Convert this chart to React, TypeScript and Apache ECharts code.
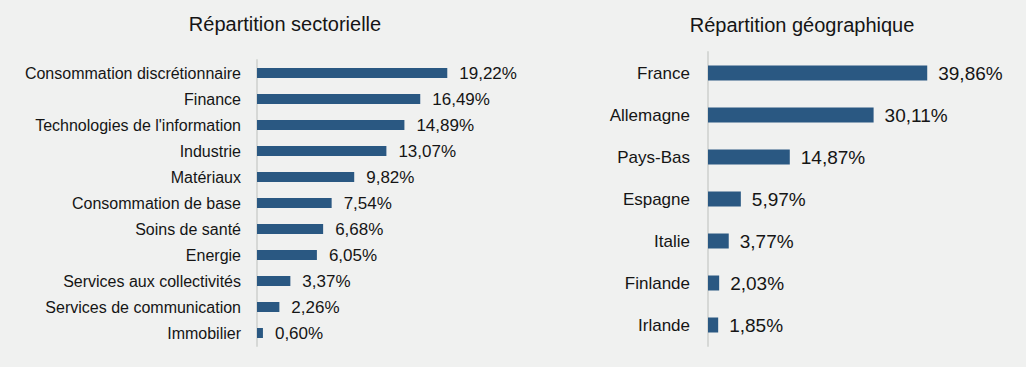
import React, { useEffect, useRef } from "react";
import * as echarts from "echarts";

const sectorCategories = [
  "Consommation discrétionnaire",
  "Finance",
  "Technologies de l'information",
  "Industrie",
  "Matériaux",
  "Consommation de base",
  "Soins de santé",
  "Energie",
  "Services aux collectivités",
  "Services de communication",
  "Immobilier",
];
const sectorValues = [19.22, 16.49, 14.89, 13.07, 9.82, 7.54, 6.68, 6.05, 3.37, 2.26, 0.6];

const geoCategories = ["France", "Allemagne", "Pays-Bas", "Espagne", "Italie", "Finlande", "Irlande"];
const geoValues = [39.86, 30.11, 14.87, 5.97, 3.77, 2.03, 1.85];

const titles = ["Répartition sectorielle", "Répartition géographique"];

const FONT = "'Liberation Sans', Arial, sans-serif";
const BAR = "#2a5882";
const TEXT = "#151515";
const AXIS = "#d6d8d6";

const fmt = (p: any) => p.value.toFixed(2).replace(".", ",") + "%";

export default function App() {
  const ref = useRef<HTMLDivElement>(null);
  useEffect(() => {
    if (!ref.current) return;
    const chart = echarts.init(ref.current, null, { renderer: "svg" });
    chart.setOption({
      animation: false,
      backgroundColor: "#f0f1f0",
      textStyle: { fontFamily: FONT },
      graphic: [
        {
          type: "text",
          x: 285,
          y: 24,
          style: { text: titles[0], fill: TEXT, font: `20px ${FONT}`, textAlign: "center", textVerticalAlign: "middle" },
        },
        {
          type: "text",
          x: 802,
          y: 25,
          style: { text: titles[1], fill: TEXT, font: `20px ${FONT}`, textAlign: "center", textVerticalAlign: "middle" },
        },
      ],
      grid: [
        { left: 257, top: 60, width: 198, height: 286 },
        { left: 708, top: 52, width: 220, height: 294 },
      ],
      xAxis: [
        { type: "value", gridIndex: 0, min: 0, max: 20, show: false },
        { type: "value", gridIndex: 1, min: 0, max: 40, show: false },
      ],
      yAxis: [
        {
          type: "category",
          gridIndex: 0,
          inverse: true,
          data: sectorCategories,
          axisTick: { show: false },
          axisLine: { show: true, lineStyle: { color: AXIS, width: 2 } },
          axisLabel: { color: TEXT, fontSize: 16, margin: 16, fontFamily: FONT },
        },
        {
          type: "category",
          gridIndex: 1,
          inverse: true,
          data: geoCategories,
          axisTick: { show: false },
          axisLine: { show: true, lineStyle: { color: AXIS, width: 2 } },
          axisLabel: { color: TEXT, fontSize: 17, margin: 18, fontFamily: FONT },
        },
      ],
      series: [
        {
          type: "bar",
          xAxisIndex: 0,
          yAxisIndex: 0,
          data: sectorValues,
          barWidth: 10,
          itemStyle: { color: BAR },
          label: { show: true, position: "right", distance: 12, formatter: fmt, color: TEXT, fontSize: 17, fontFamily: FONT },
        },
        {
          type: "bar",
          xAxisIndex: 1,
          yAxisIndex: 1,
          data: geoValues,
          barWidth: 15,
          itemStyle: { color: BAR },
          label: { show: true, position: "right", distance: 11, formatter: fmt, color: TEXT, fontSize: 19, fontFamily: FONT },
        },
      ],
    });
    return () => chart.dispose();
  }, []);
  return <div ref={ref} style={{ position: "fixed", left: 0, top: 0, width: 1026, height: 367 }} />;
}
